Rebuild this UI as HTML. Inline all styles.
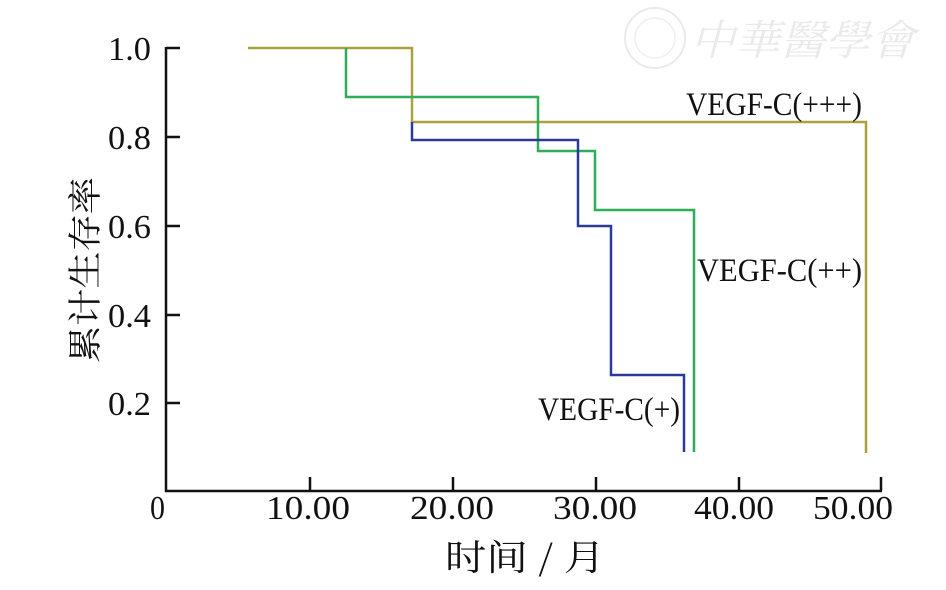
<!DOCTYPE html>
<html><head><meta charset="utf-8"><style>
html,body{margin:0;padding:0;background:#fff;}
svg{display:block;}
text{font-family:"Liberation Serif","Noto Serif CJK SC",serif;fill:#111;}
</style></head><body>
<svg width="946" height="590" viewBox="0 0 946 590" xmlns="http://www.w3.org/2000/svg">
<rect width="946" height="590" fill="#fff"/>
<!-- watermark -->
<g opacity="0.3">
<circle cx="655" cy="38" r="30" fill="none" stroke="#bbb" stroke-width="2"/>
<circle cx="655" cy="38" r="20" fill="none" stroke="#ccc" stroke-width="1.5"/>
<text x="690" y="55" font-size="42" style="fill:#bbb;font-style:italic" textLength="225" lengthAdjust="spacingAndGlyphs">中華醫學會</text>
</g>
<!-- axes -->
<g stroke="#111" stroke-width="2.5" fill="none">
<path d="M166 47 V491 H882"/>
<path d="M166 48 H180 M166 137 H180 M166 226 H180 M166 315 H180 M166 403 H180"/>
<path d="M310 491 V477 M453 491 V477 M596 491 V477 M739 491 V477 M881 491 V477"/>
</g>
<!-- series -->
<g fill="none" stroke-width="2.5">
<path d="M248 48 H412 V122 H866 V453" stroke="#a9a23a"/>
<path d="M346 48 V97 H538 V151 H595 V210 H694 V452" stroke="#2fae5a"/>
<path d="M412 122 V140 H578 V226 H611 V375 H684 V452" stroke="#2a3a9a"/>
</g>
<!-- y tick labels -->
<g font-size="34">
<text x="108" y="60" textLength="43" lengthAdjust="spacingAndGlyphs">1.0</text>
<text x="108" y="149" textLength="43" lengthAdjust="spacingAndGlyphs">0.8</text>
<text x="108" y="238" textLength="43" lengthAdjust="spacingAndGlyphs">0.6</text>
<text x="108" y="327" textLength="43" lengthAdjust="spacingAndGlyphs">0.4</text>
<text x="108" y="415" textLength="43" lengthAdjust="spacingAndGlyphs">0.2</text>
</g>
<!-- x tick labels -->
<g font-size="34">
<text x="150" y="519" textLength="15" lengthAdjust="spacingAndGlyphs">0</text>
<text x="266" y="519" textLength="84" lengthAdjust="spacingAndGlyphs">10.00</text>
<text x="410" y="519" textLength="84" lengthAdjust="spacingAndGlyphs">20.00</text>
<text x="553" y="519" textLength="84" lengthAdjust="spacingAndGlyphs">30.00</text>
<text x="694" y="519" textLength="80" lengthAdjust="spacingAndGlyphs">40.00</text>
<text x="813" y="519" textLength="80" lengthAdjust="spacingAndGlyphs">50.00</text>
</g>
<!-- series labels -->
<g font-size="33">
<text x="686" y="115" textLength="176" lengthAdjust="spacingAndGlyphs">VEGF-C(+++)</text>
<text x="697" y="281" textLength="165" lengthAdjust="spacingAndGlyphs">VEGF-C(++)</text>
<text x="538" y="420" textLength="142" lengthAdjust="spacingAndGlyphs">VEGF-C(+)</text>
</g>
<!-- axis titles -->
<text x="445" y="570" font-size="36" textLength="160" lengthAdjust="spacingAndGlyphs" style="font-family:'Noto Serif CJK SC','Noto Sans CJK SC',serif">时间 / 月</text>
<text transform="translate(97,363) rotate(-90)" font-size="34" textLength="186" lengthAdjust="spacingAndGlyphs" style="font-family:'Noto Serif CJK SC','Noto Sans CJK SC',serif">累计生存率</text>
</svg>
</body></html>
